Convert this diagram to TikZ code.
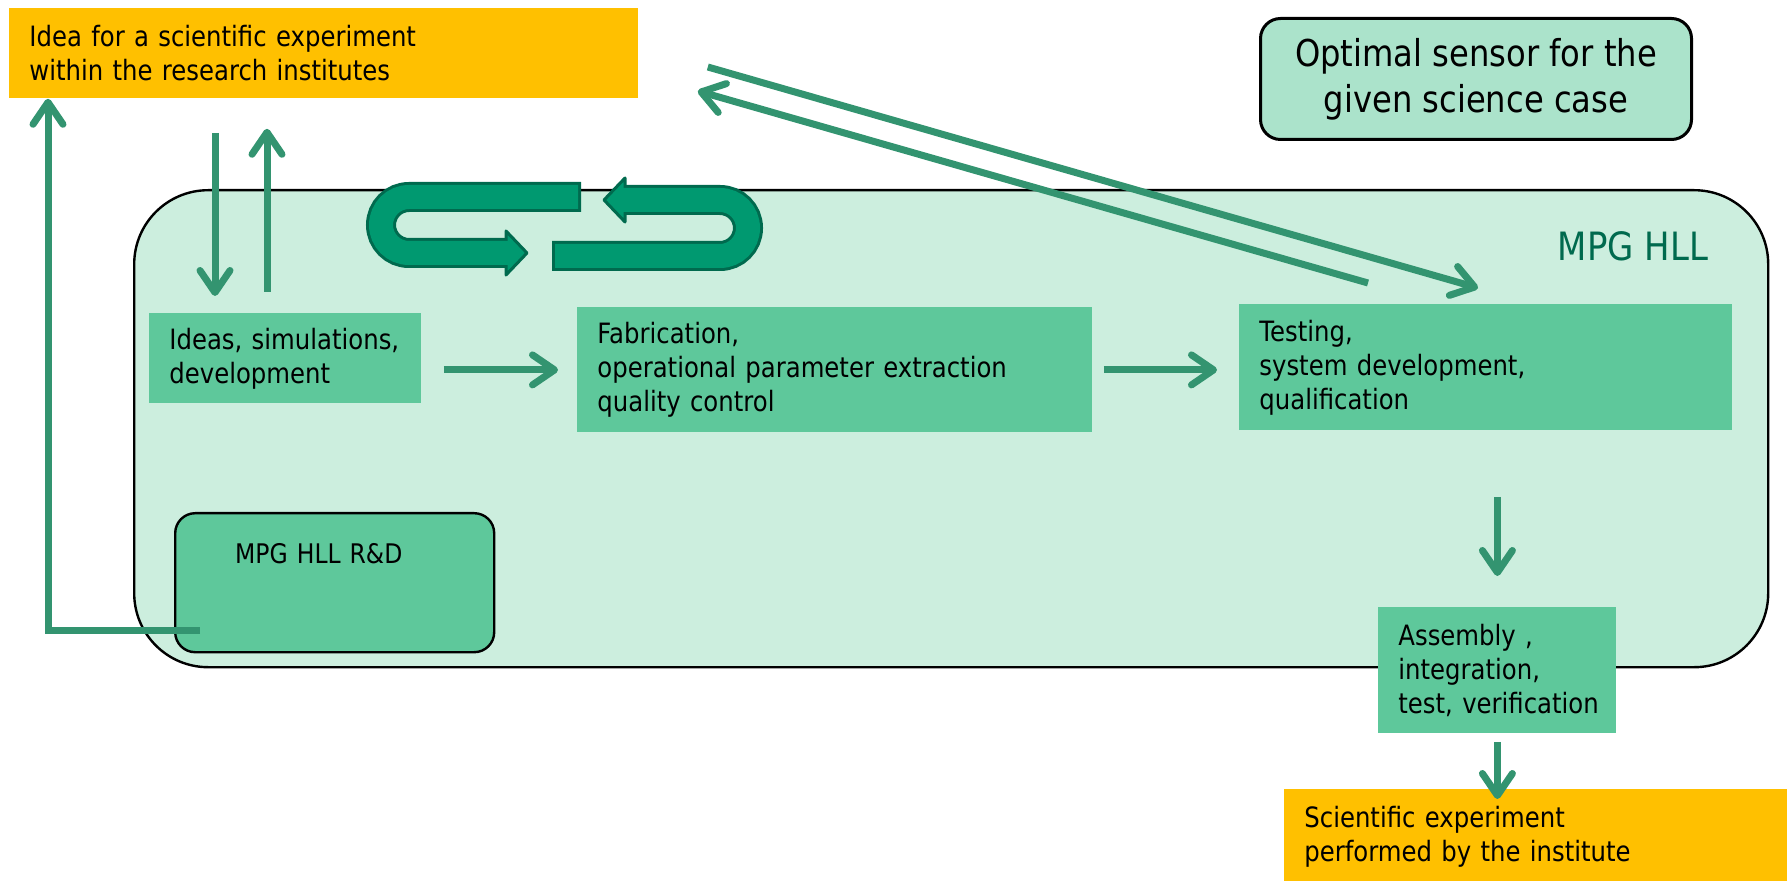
\documentclass[tikz,border=0pt]{standalone}
\usepackage{fontspec}
\setmainfont[FakeStretch=0.87]{DejaVu Sans}
\usetikzlibrary{arrows.meta,calc}

\begin{document}
\begin{tikzpicture}[x=0.5pt, y=-0.5pt, font=\fontsize{14}{17}\selectfont]
    % --- Colours ---
    \definecolor{ideayellow}{HTML}{FFC000}
    \definecolor{hllmint}{HTML}{CCEEDE}
    \definecolor{sensormint}{HTML}{ABE3CB}
    \definecolor{stepgreen}{HTML}{5EC89B}
    \definecolor{flowgreen}{HTML}{339470}
    \definecolor{loopgreen}{HTML}{009970}
    \definecolor{loopdark}{HTML}{006A4E}

    % --- Styles ---
    \tikzset{
        yellowbox/.style={fill=ideayellow, anchor=north west, inner xsep=10pt, align=left},
        stepbox/.style={fill=stepgreen, anchor=north west, inner xsep=10pt, align=left},
        flow/.style={draw=flowgreen, line width=3.5pt, -{Straight Barb[length=11pt, width=15pt, round]}},
        loopband/.style={draw=loopdark, line width=15pt, rounded corners=14pt},
        loopfill/.style={draw=loopgreen, line width=12pt, rounded corners=14pt},
        loophead/.style={fill=loopgreen, draw=loopdark, line width=1.5pt, line join=round}
    }

    \useasboundingbox (0,0) rectangle (1787,881);

    % --- MPG HLL frame ---
    \node[draw, line width=1.2pt, fill=hllmint, rounded corners=37pt, anchor=north west,
          minimum width=817pt, minimum height=238.5pt] (hll) at (133,189) {};
    \node[anchor=east, text=loopdark, font=\fontsize{19.5}{23}\selectfont] (hlllabel) at (1715,246) {MPG HLL};

    % --- Loop icon ---
    \draw[loopband] (581,197) -- (381,197) -- (381,253) -- (506,253);
    \filldraw[loophead] (506,231) -- (527,253) -- (506,275) -- cycle;
    \draw[loopfill, shorten <=1.5pt] (581,197) -- (381,197) -- (381,253) -- (509,253);
    \draw[loopband] (552,256) -- (748,256) -- (748,200) -- (625,200);
    \filldraw[loophead] (625,178) -- (604,200) -- (625,222) -- cycle;
    \draw[loopfill, shorten <=1.5pt] (552,256) -- (748,256) -- (748,200) -- (622,200);

    % --- Boxes ---
    \node[yellowbox, text width=294.5pt, minimum height=45pt] (idea) at (9,8)
        {Idea for a scientific experiment\\within the research institutes};
    \node[draw, line width=1.5pt, fill=sensormint, rounded corners=10pt, anchor=north west,
          minimum width=215.5pt, minimum height=60.5pt, align=center,
          font=\fontsize{18.5}{23}\selectfont] (sensor) at (1259,17)
        {Optimal sensor for the\\given science case};
    \node[stepbox, text width=116pt, minimum height=45pt] (ideas) at (149,313)
        {Ideas,~simulations,\\development};
    \node[stepbox, text width=237.5pt, minimum height=62.5pt] (fab) at (577,307)
        {Fabrication,\\operational parameter extraction\\quality control};
    \node[stepbox, text width=226.5pt, minimum height=63pt] (test) at (1239,304)
        {Testing,\\system development,\\qualification};
    \node[draw, line width=1.2pt, fill=stepgreen, rounded corners=10pt, anchor=north west,
          inner xsep=30pt, inner ysep=5pt, text width=99.5pt, align=left,
          font=\fontsize{13.5}{16}\selectfont,
          text height=20pt, text depth=39.5pt] (rnd) at (174,512) {MPG HLL R\&D};
    \node[stepbox, text width=99pt, minimum height=63pt] (asm) at (1378,607)
        {Assembly ,\\integration,\\test,~\mbox{verification}};
    \node[yellowbox, text width=232.5pt, minimum height=47pt] (sci) at (1284,789)
        {Scientific experiment\\performed by the institute};

    % --- Arrows ---
    \coordinate (dn) at ($(ideas.north west)+(66,0)$);
    \coordinate (up) at ($(ideas.north west)+(118,0)$);
    \draw[flow, shorten <=17pt, shorten >=8.5pt] (dn |- idea.south) -- (dn);
    \draw[flow, shorten <=10.5pt, shorten >=15pt] (up) -- (up |- idea.south);
    \draw[flow, shorten <=11pt, shorten >=9.5pt] (ideas.east |- fab.west) -- (fab.west);
    \draw[flow, shorten <=5.5pt, shorten >=11pt] (fab.east) -- (test.west |- fab.east);
    \draw[flow, shorten <=33pt, shorten >=15.5pt] (test.south -| asm.north) -- (asm.north);
    \draw[flow, shorten <=4pt, shorten >=-5pt] (asm.south) -- (asm.south |- sci.north);

    % feedback from R&D back to the idea
    \coordinate (back) at ($(rnd.south west)+(26,-23)$);
    \draw[flow] (back) -| ($(idea.south west)+(39,0)$);

    % between testing and the idea
    \draw[flow] ($(idea.north east)+(69,59)$) -- ($(test.north west)+(239,-16)$);
    \draw[flow] ($(test.north west)+(129,-21)$) -- ($(idea.north east)+(59,83)$);
\end{tikzpicture}
\end{document}
